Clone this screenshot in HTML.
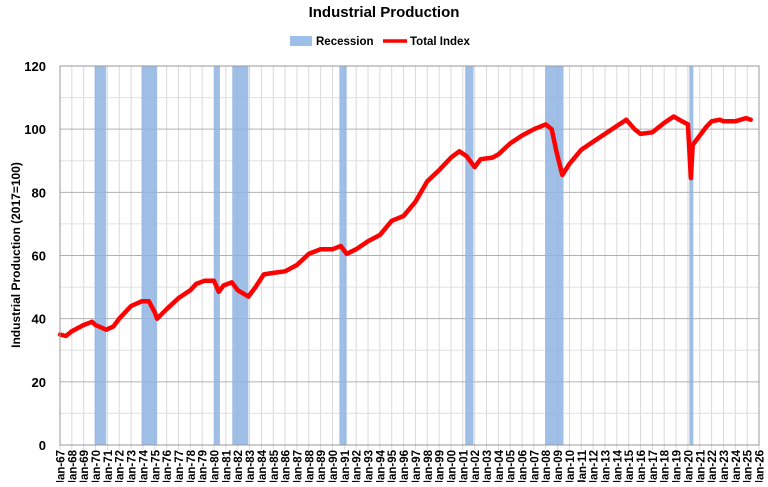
<!DOCTYPE html>
<html><head><meta charset="utf-8"><style>
body{margin:0;background:#fff;width:768px;height:482px;overflow:hidden;font-family:"Liberation Sans",sans-serif}
svg text{font-family:"Liberation Sans",sans-serif}
</style></head><body>
<svg id="c" width="768" height="482">
<text x="384" y="17" text-anchor="middle" font-size="15" font-weight="bold">Industrial Production</text>
<g>
<rect x="290" y="36" width="22" height="10" fill="#9dc0e8"/>
<text x="316" y="45" font-size="11.5" font-weight="bold">Recession</text>
<line x1="383" y1="41" x2="407" y2="41" stroke="#f00" stroke-width="3.5"/>
<text x="410" y="45" font-size="11.5" font-weight="bold">Total Index</text>
</g>
<text transform="translate(20,255) rotate(-90)" text-anchor="middle" font-size="12" font-weight="bold">Industrial Production (2017=100)</text>
<g id="grid"></g><g id="rec"></g><g id="line"></g><g id="axes"></g>
</svg>
<script>
const yTicks=[0,20,40,60,80,100,120];
const recStart=[1969.92,1973.88,1980.0,1981.54,1990.58,2001.2,2007.95,2020.12];
const recEnd=[1970.9,1975.2,1980.5,1982.9,1991.2,2001.9,2009.5,2020.35];
const dates=[1967.0,1967.5,1968,1969,1969.7,1970,1970.9,1971.5,1972,1973,1973.9,1974.5,1975.0,1975.2,1976,1977,1978,1978.5,1979.2,1980.0,1980.4,1980.8,1981.5,1982.0,1982.9,1983.5,1984.2,1985,1986,1987,1988,1989,1990,1990.7,1991.2,1992,1993,1994,1995,1996,1997,1998,1999,2000,2000.7,2001.3,2002.0,2002.5,2003.5,2004,2005,2006,2007,2008.0,2008.5,2008.9,2009.4,2010,2011,2012,2013,2014,2014.8,2015.5,2016,2017,2018,2018.8,2019.5,2020.0,2020.25,2020.4,2021,2021.5,2022,2022.7,2023,2024,2024.9,2025.3];
const values=[35,34.5,36,38,39,38,36.5,37.5,40,44,45.5,45.5,42,40,43,46.5,49,51,52,52,48.5,50.5,51.5,49,47,50,54,54.5,55,57,60.5,62,62,63,60.5,62,64.5,66.5,71,72.5,77,83.5,87,91,93,91.5,88,90.5,91,92,95.5,98,100,101.5,100,93,85.5,89,93.5,96,98.5,101,103,100,98.5,99,102,104,102.5,101.5,84.5,95,98,100.5,102.5,103,102.5,102.5,103.5,103];
const yearLabels=[];for(let y=1967;y<=2026;y++)yearLabels.push('Jan-'+String(y%100).padStart(2,'0'));
const L=60,R=759,T=66,B=445;
const X=t=>L+(t-1967)*(R-L)/59, Y=v=>B-v*(B-T)/120;
const NS='http://www.w3.org/2000/svg';
function mk(tag,attrs,parent){const e=document.createElementNS(NS,tag);for(const k in attrs)e.setAttribute(k,attrs[k]);document.getElementById(parent).appendChild(e);return e;}
for(let i=0;i<yearLabels.length;i++){const x=X(1967+i);
 const g=mk('line',{x1:x,y1:T,x2:x,y2:B+5,stroke:'#d9d9d9','stroke-width':1},'grid');
 
 
 const t=mk('text',{transform:`translate(${x+4.5},450) rotate(-90)`,'text-anchor':'end','font-size':11.5,'font-weight':'bold'},'axes');
 t.textContent=yearLabels[i];
 
 
}
for(let v=10;v<=120;v+=10){const l=mk('line',{x1:L,y1:Y(v),x2:R,y2:Y(v),stroke:v%20==0?'#b0b0b0':'#e0e0e0','stroke-width':1},'grid');
 
 }
for(const v of yTicks){const t=mk('text',{x:46,y:Y(v)+5,'text-anchor':'end','font-size':13,'font-weight':'bold'},'axes');
 t.textContent=v;
 
 }
for(let i=0;i<recStart.length;i++){const r=mk('rect',{x:X(recStart[i]),y:T,width:Math.max(X(recEnd[i])-X(recStart[i]),4),height:B-T,fill:'#8fb4e3','fill-opacity':0.85},'rec');
 
 }
const pts=dates.map((d,i)=>X(d).toFixed(1)+','+Y(values[i]).toFixed(1)).join(' ');
const p=mk('polyline',{points:pts,fill:'none',stroke:'#f00','stroke-width':4.5,'stroke-linejoin':'round','stroke-linecap':'round'},'line');


const ax=mk('line',{x1:L,y1:B,x2:R,y2:B,stroke:'#888','stroke-width':1},'axes');


const fr=mk('rect',{x:L,y:T,width:R-L,height:B-T,fill:'none',stroke:'#999','stroke-width':1},'axes');


</script>
</body></html>
